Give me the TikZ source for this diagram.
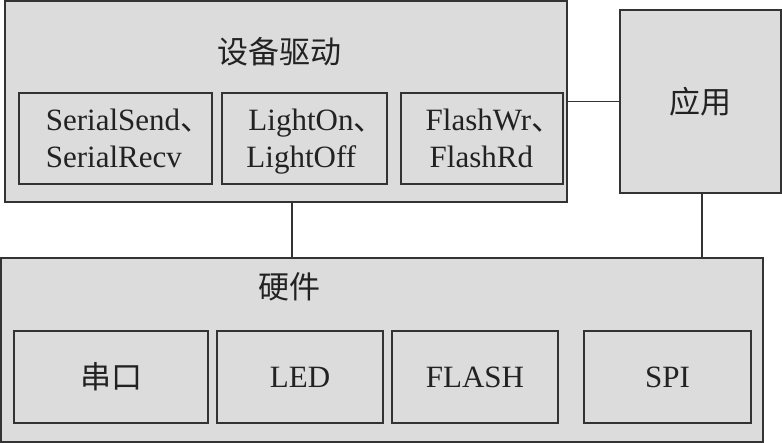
\documentclass[tikz,border=0pt]{standalone}
\usepackage{fontspec}
\setmainfont{Liberation Serif}
\newfontfamily\cjk{Noto Sans CJK SC}
\usepackage{tikz}
\usetikzlibrary{positioning}
\definecolor{boxfill}{HTML}{DCDCDC}
\definecolor{boxline}{HTML}{333333}
\definecolor{txt}{HTML}{222222}

\begin{document}
\begin{tikzpicture}[
  x=0.5pt, y=-0.5pt,
  every node/.style={align=center, text=txt, font=\fontsize{15.5}{18.5}\selectfont},
  box/.style={draw=boxline, fill=boxfill, line width=0.7pt, inner sep=0pt, outer sep=0pt},
  sz/.style 2 args={minimum width=#1*0.5pt, minimum height=#2*0.5pt},
  twoline/.style={align=left, text depth=0pt},
  title/.style={font=\cjk\fontsize{15.5}{18.5}\selectfont}
]
\useasboundingbox (0,0) rectangle (782,443);
% Nodes
\node[box, sz={562}{201}] (drv) at (286,101.5) {};
\node[title] (drvt) at (279,52) {设备驱动};
\node[box, sz={193}{91}, twoline] (ser) at (115.5,138.5) {\hspace*{13pt}SerialSend{\cjk 、}\\\hspace*{13pt}SerialRecv};
\node[box, sz={165}{91}, twoline] (lig) at (304.5,138.5) {\hspace*{12pt}LightOn{\cjk 、}\\\hspace*{11pt}LightOff};
\node[box, sz={162}{91}, twoline] (fla) at (482,138.5) {\hspace*{12pt}FlashWr{\cjk 、}\\\hspace*{14pt}FlashRd};
\node[box, sz={161}{183}, title] (app) at (700.5,101.5) {应用};
\node[box, sz={762}{184}] (hw) at (382,350) {};
\node[title] (hwt) at (289,287) {硬件};
\node[box, sz={194}{92}, title] (uart) at (111,377) {串口};
\node[box, sz={166}{92}] (led) at (300,377) {LED};
\node[box, sz={166}{92}] (flash) at (475,377) {FLASH};
\node[box, sz={167}{92}] (spi) at (667.5,377) {SPI};
% Lines
\draw[boxline, line width=0.7pt] (drv.east) -- (app.west);
\draw[boxline, line width=0.7pt] ([xshift=3pt]drv.south) -- ([xshift=3pt]drv.south |- hw.north);
\draw[boxline, line width=0.7pt] ([xshift=0.75pt]app.south) -- ([xshift=0.75pt]app.south |- hw.north);
\end{tikzpicture}
\end{document}
